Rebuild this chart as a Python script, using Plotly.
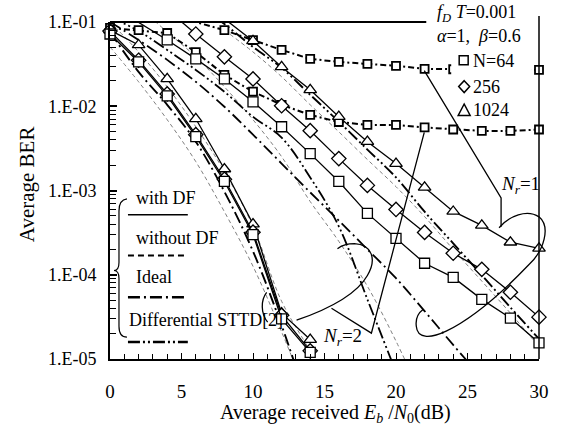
import plotly.graph_objects as go

# ---------------- data ----------------
snr_nr2 = [0, 2, 4, 6, 8, 10, 12, 14]
ber_nr2_df_64 = [0.072, 0.0336, 0.0133, 0.00436, 0.00128, 3.0e-4, 3.0e-5, 1.2e-5]
ber_nr2_df_256 = [0.078, 0.0352, 0.0140, 0.00460, 0.00136, 3.2e-4, 3.3e-5, 1.25e-5]
ber_nr2_df_1024 = [0.080, 0.0534, 0.0211, 0.0071, 0.0018, 4.0e-4, 3.5e-5, 1.7e-5]

snr_nr1_64 = [0, 2, 4, 6, 8, 10, 12, 14, 16, 18, 20, 22, 24, 26, 28, 30]
ber_nr1_df_64 = [0.16, 0.1, 0.0612, 0.0365, 0.0211, 0.0113, 0.00571, 0.00274, 0.00128,
                 5.35e-4, 2.70e-4, 1.37e-4, 9.3e-5, 5.1e-5, 3.06e-5, 1.55e-5]
snr_nr1_256 = [4, 6, 8, 10, 12, 14, 16, 18, 20, 22, 24, 26, 28, 30]
ber_nr1_df_256 = [0.14, 0.0721, 0.0386, 0.0211, 0.01014, 0.00513, 0.00239, 0.00115,
                  5.96e-4, 3.18e-4, 1.80e-4, 1.16e-4, 6.2e-5, 3.14e-5]
snr_nr1_1024 = [6, 8, 10, 12, 14, 16, 18, 20, 22, 24, 26, 28, 30]
ber_nr1_df_1024 = [0.2, 0.11, 0.0596, 0.0293, 0.01567, 0.00752, 0.00380, 0.00209,
                   0.00109, 5.64e-4, 3.85e-4, 2.43e-4, 2.06e-4]

snr_wo = [0, 2, 4, 6, 8, 10, 12, 14, 16, 18, 20, 22, 24, 26, 28, 30]
ber_nr1_wo_64 = [0.2, 0.16, 0.125, 0.1, 0.080, 0.061, 0.0466, 0.0365, 0.0336, 0.0318,
                 0.0302, 0.0278, 0.0275, 0.0272, 0.027, 0.027]
ber_nr2_wo_64 = [0.085, 0.08, 0.074, 0.044, 0.0236, 0.0149, 0.0104, 0.0079, 0.0065,
                 0.006, 0.006, 0.0056, 0.0053, 0.0051, 0.0051, 0.0053]

snr_ideal_nr2 = [0, 2, 4, 6, 8, 10, 12, 13]
ber_ideal_nr2 = [0.076, 0.0256, 0.0104, 0.0038, 9.7e-4, 1.9e-4, 2.5e-5, 8e-6]
snr_ideal_nr1 = [0, 2, 4, 6, 8, 10, 12, 14, 16, 18, 20, 22, 24, 26]
ber_ideal_nr1 = [0.1, 0.0612, 0.0355, 0.0195, 0.00986, 0.0046, 0.00209, 9.5e-4,
                 4.4e-4, 2.0e-4, 9.1e-5, 3.7e-5, 1.47e-5, 6e-6]

snr_dstt_nr2 = [0, 2, 4, 6, 8, 10, 12, 14, 16, 18, 20]
ber_dstt_nr2 = [0.1146, 0.0782, 0.0466, 0.0270, 0.01486, 0.0075, 0.00424, 0.00143,
                3.75e-4, 5.1e-5, 7.0e-6]
snr_dstt_nr1 = [6, 8, 10, 12, 14, 16, 18, 20, 22, 24, 26, 28, 30]
ber_dstt_nr1 = [0.17, 0.0947, 0.0506, 0.0286, 0.01368, 0.00656, 0.00306, 0.00143,
                5.6e-4, 2.36e-4, 9.9e-5, 4.1e-5, 1.73e-5]

# thin grey reference curves
snr_g1 = [0, 2, 4, 6, 8, 10, 12, 14]
ber_g1 = [0.0506, 0.0195, 0.00692, 0.0022, 5.6e-4, 1.26e-4, 2.1e-5, 3e-6]
snr_g2 = [0, 2, 4, 6, 8, 10, 12, 14, 16]
ber_g2 = [0.1, 0.0441, 0.017, 0.00571, 0.00168, 3.75e-4, 4.85e-5, 1.24e-5, 3e-6]
snr_g3 = [2, 4, 6, 8, 10, 12, 14, 16, 18, 20, 22]
ber_g3 = [0.15, 0.0762, 0.0386, 0.017, 0.00692, 0.00252, 7.4e-4, 2.49e-4, 7.3e-5, 1.63e-5, 3e-6]
snr_g4 = [8, 10, 12, 14, 16, 18, 20, 22, 24, 26, 28, 30]
ber_g4 = [0.080, 0.0441, 0.0224, 0.0104, 0.00497, 0.00233, 0.00111, 4.9e-4, 2.0e-4,
          8.4e-5, 3.5e-5, 1.4e-5]

x_ticks = [0, 5, 10, 15, 20, 25, 30]
y_ticks = [1e-5, 1e-4, 1e-3, 1e-2, 1e-1]
y_ticktext = ["1.E-05", "1.E-04", "1.E-03", "1.E-02", "1.E-01"]

# ---------------- figure ----------------
W, H = 561, 434
L, R, T, B = 110, 21, 20, 75
PW, PH = W - L - R, H - T - B
FONT = "Liberation Serif, Times New Roman, serif"


def P(px, py):
    return (px - L) / PW, (H - B - py) / PH


def path(*items):
    out = []
    for it in items:
        if isinstance(it, str):
            out.append(it)
        else:
            a, b = P(*it)
            out.append(f"{a:.5f},{b:.5f}")
    return " ".join(out)


fig = go.Figure()


def add_series(x, y, symbol=None, msize=10, dash="solid", width=1.3,
               color="black", mline=1.3, shape="linear"):
    fig.add_trace(go.Scatter(x=x, y=y, mode="lines",
                             line=dict(color=color, width=width, dash=dash, shape=shape),
                             showlegend=False, hoverinfo="skip"))
    if symbol:
        pts = [(a, b) for a, b in zip(x, y) if 9.5e-6 <= b <= 0.095]
        fig.add_trace(go.Scatter(x=[p[0] for p in pts], y=[p[1] for p in pts],
                                 mode="markers", cliponaxis=False,
                                 marker=dict(symbol=symbol, size=msize, color="white",
                                             line=dict(color="black", width=mline)),
                                 showlegend=False, hoverinfo="skip"))


GREY = "#808080"
add_series(snr_g1, ber_g1, dash="4px,3px", width=1, color=GREY, shape="spline")
add_series(snr_g2, ber_g2, dash="4px,3px", width=1, color=GREY, shape="spline")
add_series(snr_g3, ber_g3, dash="4px,3px", width=1, color=GREY, shape="spline")
add_series(snr_g4, ber_g4, dash="4px,3px", width=1, color=GREY, shape="spline")

IDEAL = "12px,4px,2px,4px"
DSTT = "12px,3px,2px,3px,2px,3px"
add_series(snr_ideal_nr2, ber_ideal_nr2, dash=IDEAL, width=1.9, shape="spline")
add_series(snr_ideal_nr1, ber_ideal_nr1, dash=IDEAL, width=1.8, shape="spline")
add_series(snr_dstt_nr2, ber_dstt_nr2, dash=DSTT, width=1.8, shape="spline")
add_series(snr_dstt_nr1, ber_dstt_nr1, dash=DSTT, width=1.9, shape="spline")

WO = "6px,3px,2px,3px"
add_series(snr_wo, ber_nr1_wo_64, symbol="square", msize=8, dash=WO, width=2, mline=1.8)
add_series(snr_wo, ber_nr2_wo_64, symbol="square", msize=8, dash=WO, width=2, mline=1.8)

add_series(snr_nr2, ber_nr2_df_1024, symbol="triangle-up", msize=11)
add_series(snr_nr2, ber_nr2_df_256, symbol="diamond", msize=11)
add_series(snr_nr2, ber_nr2_df_64, symbol="square", msize=10)

add_series(snr_nr1_1024, ber_nr1_df_1024, symbol="triangle-up", msize=11)
add_series(snr_nr1_256, ber_nr1_df_256, symbol="diamond", msize=11)
add_series(snr_nr1_64, ber_nr1_df_64, symbol="square", msize=10)

# ---------------- shapes ----------------
shapes = []
LP = dict(xref="paper", yref="paper", layer="above")
# frame pieces (top line stops before the parameter text, right line full height)
x0, y0 = P(110, 20); x1, _ = P(427, 20)
shapes.append(dict(type="line", x0=x0, y0=y0, x1=x1, y1=y0, line=dict(color="black", width=2), **LP))
xr, yt = P(540, 14); _, yb = P(540, 359)
shapes.append(dict(type="line", x0=xr, y0=yt, x1=xr, y1=yb, line=dict(color="black", width=1.5), **LP))
# white box behind the marker key
a0, b0 = P(452, 47); a1, b1 = P(532, 120)
shapes.append(dict(type="rect", x0=a0, y0=b1, x1=a1, y1=b0, fillcolor="white",
                   line=dict(width=0), **LP))
# marker key symbols
a0, b0 = P(460, 54); a1, b1 = P(469, 63)
shapes.append(dict(type="rect", x0=a0, y0=b1, x1=a1, y1=b0, line=dict(color="black", width=1.5), **LP))
shapes.append(dict(type="path", path=path("M", (465, 79), "L", (470.5, 85), "L", (465, 91), "L", (459.5, 85), "Z"),
                   line=dict(color="black", width=1.5), **LP))
shapes.append(dict(type="path", path=path("M", (465, 102.5), "L", (471, 114), "L", (459, 114), "Z"),
                   line=dict(color="black", width=1.5), **LP))

CL = dict(color="black", width=1.3)
# N_r = 1 callout and lasso
shapes.append(dict(type="path", path=path("M", (425, 69), "L", (502, 197), "L", (502, 226)), line=CL, **LP))
shapes.append(dict(type="path", path=path(
    "M", (500, 227), "C", (510, 215), (528, 208), (540, 216),
    "C", (552, 226), (545, 250), (530, 264),
    "C", (510, 285), (480, 315), (447, 331),
    "C", (430, 339), (418, 338), (417, 326),
    "C", (416, 318), (420, 312), (424, 309)), line=CL, **LP))
# N_r = 2 callout and lasso
shapes.append(dict(type="path", path=path("M", (425, 131), "L", (372, 333), "L", (332, 308)), line=CL, **LP))
shapes.append(dict(type="path", path=path(
    "M", (297, 320), "C", (320, 312), (355, 298), (368, 275),
    "C", (378, 258), (372, 244), (355, 243),
    "C", (348, 243), (342, 245), (338, 248)), line=CL, **LP))
shapes.append(dict(type="path", path=path("M", (268, 322), "C", (261, 313), (261, 300), (267, 292)),
                   line=CL, **LP))
# legend brace
shapes.append(dict(type="path", path=path(
    "M", (127, 198), "Q", (119, 199), (119, 210), "L", (119, 262),
    "Q", (119, 270), (114, 270), "Q", (119, 270), (119, 278),
    "L", (119, 326), "Q", (119, 337), (127, 337)), line=dict(color="black", width=1.2), **LP))
# legend line samples
for yy, dash, wdt in [(214, "solid", 1.5), (255, "6px,4px", 2), (297, IDEAL, 2.5), (342, DSTT, 2.5)]:
    a0, b0 = P(128, yy); a1, _ = P(188, yy)
    shapes.append(dict(type="line", x0=a0, y0=b0, x1=a1, y1=b0, line=dict(color="black", width=wdt, dash=dash), **LP))

# ---------------- annotations ----------------
ann = []


def text(px, py, s, size=18, xanchor="left", angle=0):
    a, b = P(px, py)
    ann.append(dict(x=a, y=b, xref="paper", yref="paper", text=s, showarrow=False,
                    xanchor=xanchor, yanchor="middle", textangle=angle,
                    font=dict(family=FONT, size=size, color="black")))


text(436, 11, "<i>f</i><sub><i>D</i></sub> <i>T</i>=0.001", 18)
text(436, 34, "<i>α</i>=1,  <i>β</i>=0.6", 18)
text(472, 59, "N=64", 18)
text(472, 85, "256", 18)
text(472, 109, "1024", 18)
text(521, 184, "<i>N</i><sub><i>r</i></sub>=1", 19, xanchor="center")
text(343, 337, "<i>N</i><sub><i>r</i></sub>=2", 19, xanchor="center")
text(134, 197, "with DF", 18)
text(134, 237, "without DF", 18)
text(134, 277, "Ideal", 18)
text(127, 320, "Differential STTD[2]", 18)
text(336, 414, "Average received <i>E</i><sub><i>b</i></sub> /<i>N</i><sub>0</sub>(dB)", 20, xanchor="center")
text(27, 183, "Average BER", 21, xanchor="center", angle=-90)

minor_y = [m * 10 ** e for e in range(-5, -1) for m in range(2, 10)]

fig.update_layout(
    width=W, height=H, margin=dict(l=L, r=R, t=T, b=B),
    paper_bgcolor="white", plot_bgcolor="white",
    showlegend=False, shapes=shapes, annotations=ann,
    xaxis=dict(range=[0, 30], tickvals=x_ticks, showgrid=False, zeroline=False,
               showline=True, linecolor="black", linewidth=2,
               ticks="inside", ticklen=6, tickwidth=1.3, tickcolor="black",
               ticklabelstandoff=14,
               minor=dict(dtick=1, ticks="inside", ticklen=5, tickwidth=1, tickcolor="black"),
               tickfont=dict(family=FONT, size=19, color="black")),
    yaxis=dict(type="log", range=[-5, -1], tickvals=y_ticks, ticktext=y_ticktext,
               showgrid=False, zeroline=False, showline=True, linecolor="black", linewidth=2,
               ticks="inside", ticklen=7, tickwidth=1.5, tickcolor="black",
               ticklabelstandoff=8,
               minor=dict(tickvals=minor_y, ticks="inside", ticklen=6, tickwidth=1, tickcolor="black"),
               tickfont=dict(family=FONT, size=18, color="black")),
)

fig.write_html("out.html", config={"displayModeBar": False},
               post_script="document.body.style.margin='0px';document.body.style.padding='0px';")
